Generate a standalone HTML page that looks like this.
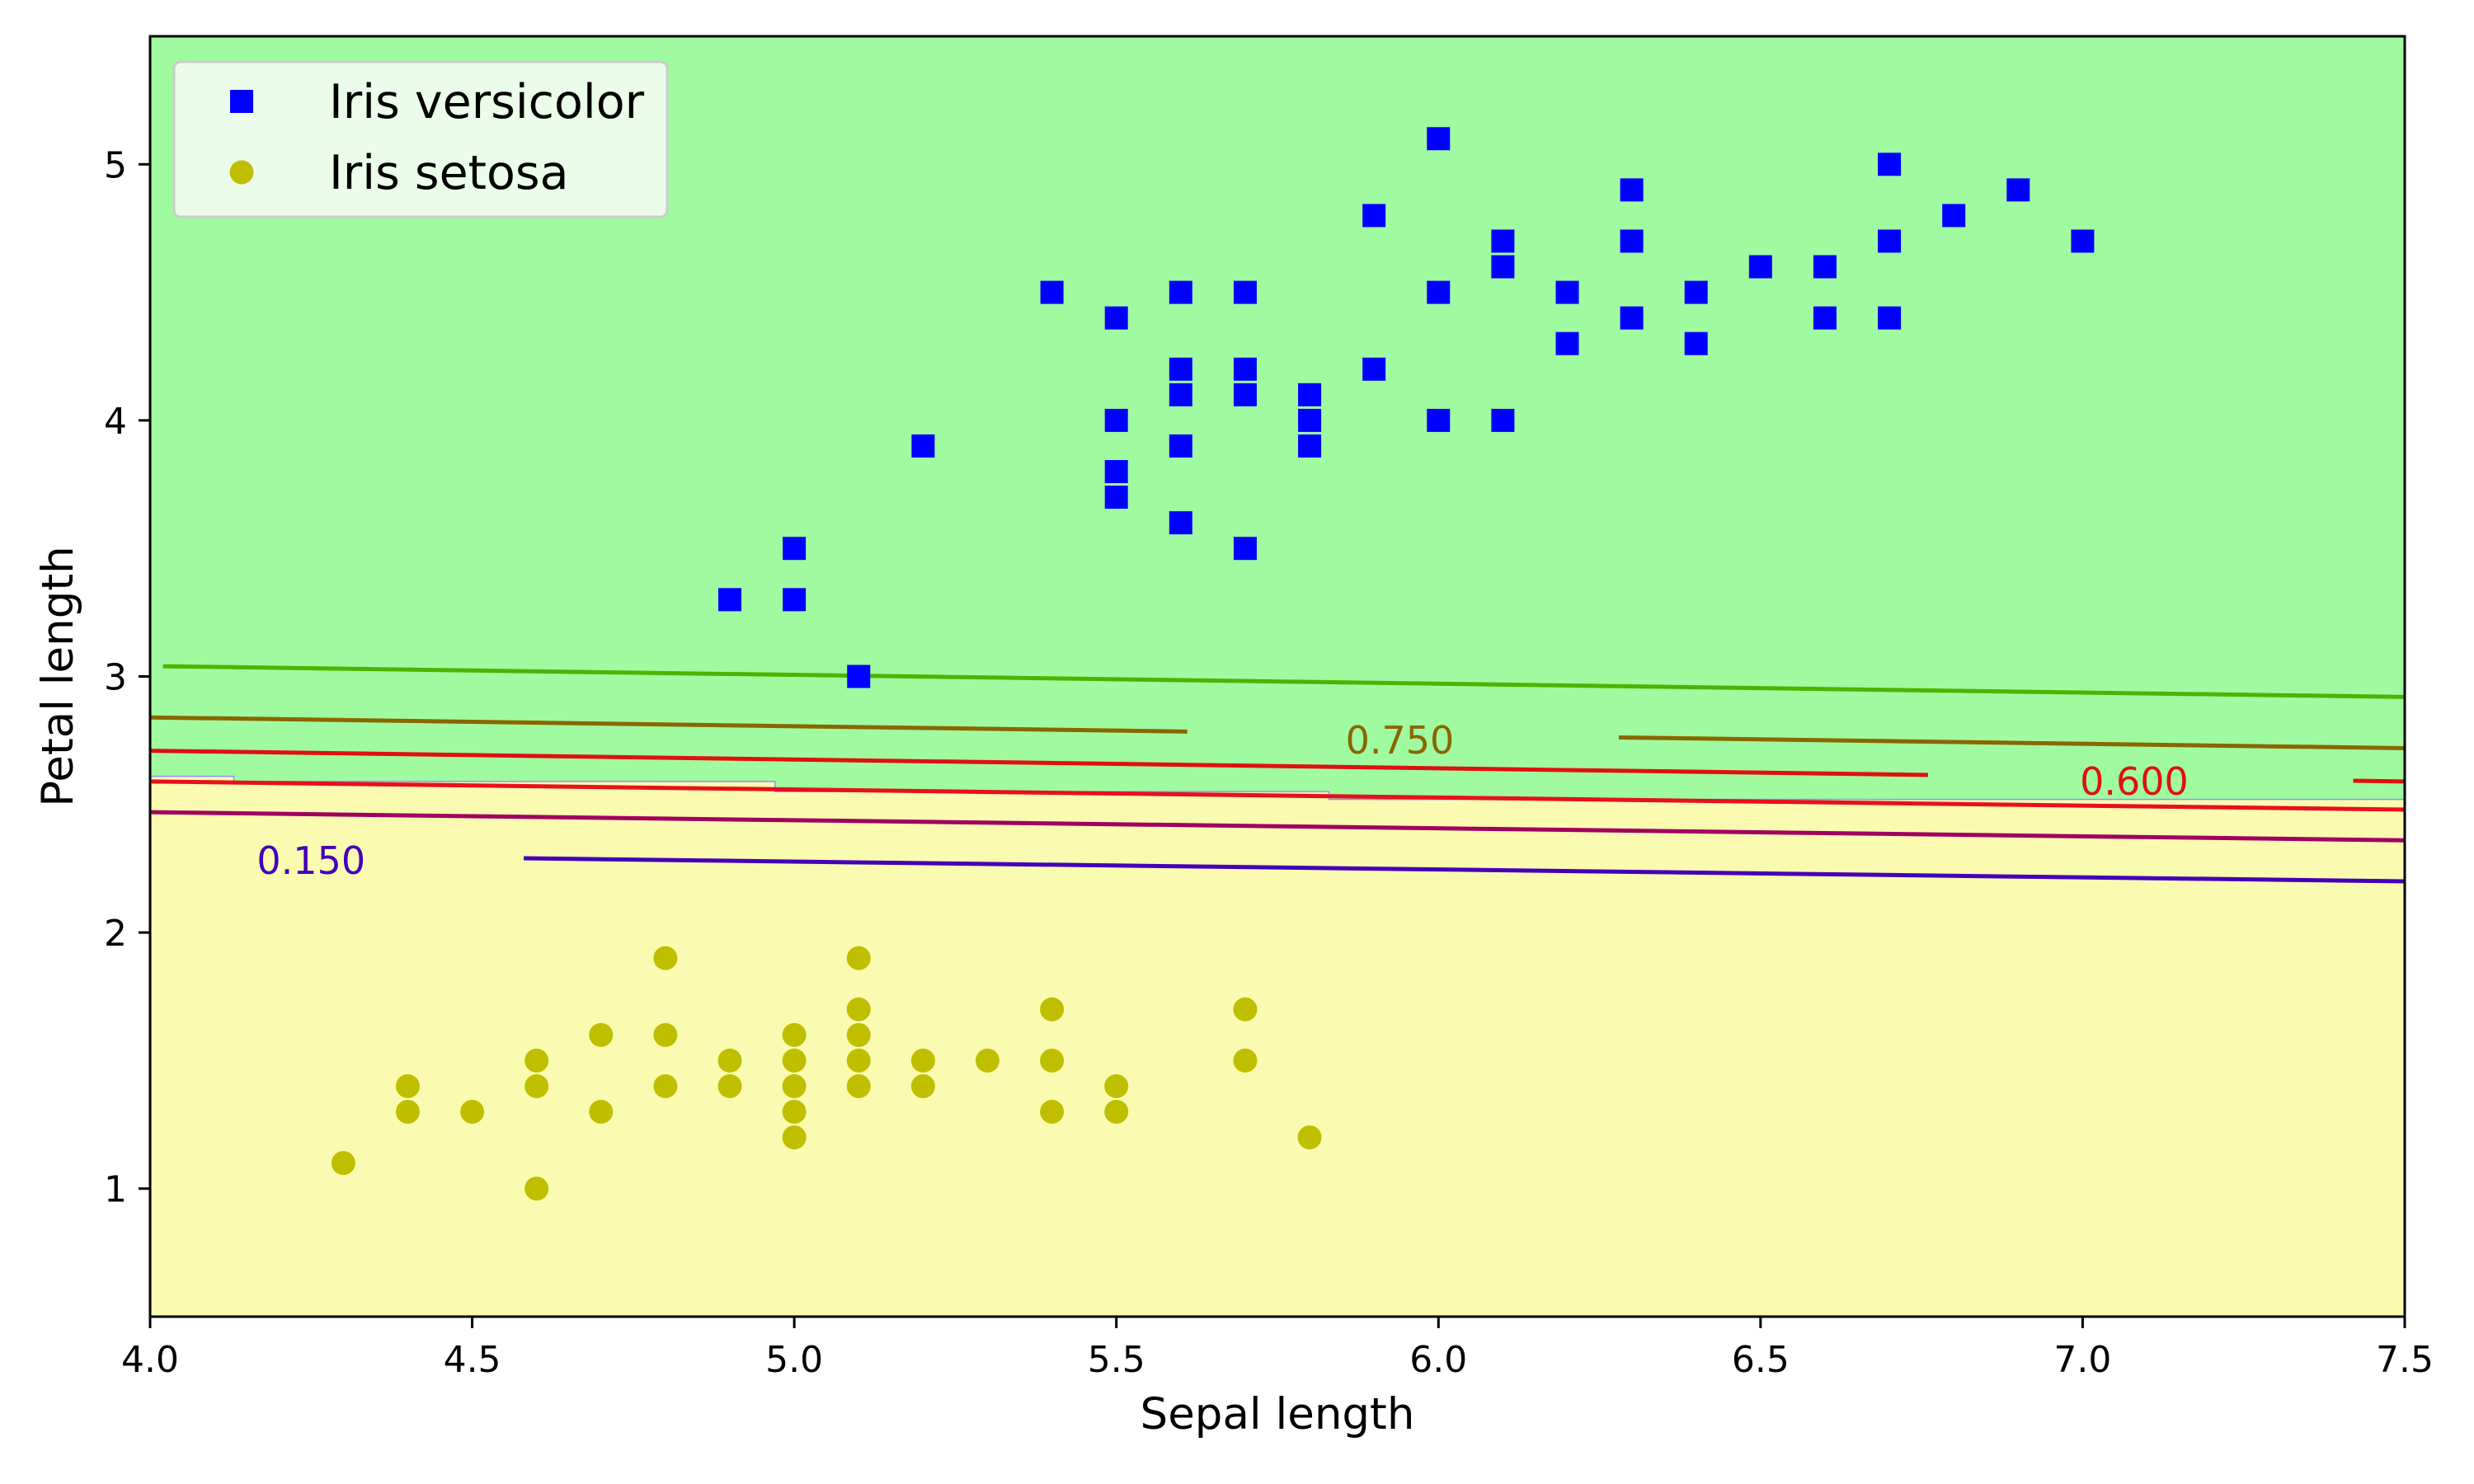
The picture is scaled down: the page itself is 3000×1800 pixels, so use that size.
<!DOCTYPE html>
<html><head><meta charset="utf-8"><style>
html,body{margin:0;padding:0;background:#fff}
svg{display:block;font-family:"DejaVu Sans","Liberation Sans",sans-serif}
</style></head><body>
<svg id="chart" width="3000" height="1800" viewBox="0 0 3000 1800" xmlns="http://www.w3.org/2000/svg">
<g id="plot"></g>
</svg>
<script>
const versicolorX=[4.9,5.0,5.0,5.1,5.2,5.4,5.5,5.5,5.5,5.5,5.6,5.6,5.6,5.6,5.6,5.7,5.7,5.7,5.7,5.8,5.8,5.8,5.9,5.9,6.0,6.0,6.0,6.1,6.1,6.1,6.2,6.2,6.3,6.3,6.3,6.4,6.4,6.5,6.6,6.6,6.7,6.7,6.7,6.8,6.9,7.0];
const versicolorY=[3.3,3.5,3.3,3.0,3.9,4.5,4.4,4.0,3.8,3.7,4.5,4.2,4.1,3.9,3.6,4.5,4.2,4.1,3.5,4.1,4.0,3.9,4.8,4.2,5.1,4.5,4.0,4.7,4.6,4.0,4.5,4.3,4.9,4.7,4.4,4.5,4.3,4.6,4.6,4.4,5.0,4.7,4.4,4.8,4.9,4.7];
const setosaX=[4.3,4.4,4.4,4.5,4.6,4.6,4.6,4.7,4.7,4.8,4.8,4.8,4.9,4.9,5.0,5.0,5.0,5.0,5.0,5.1,5.1,5.1,5.1,5.1,5.2,5.2,5.3,5.4,5.4,5.4,5.5,5.5,5.7,5.7,5.8];
const setosaY=[1.1,1.4,1.3,1.3,1.5,1.4,1.0,1.6,1.3,1.9,1.6,1.4,1.5,1.4,1.6,1.5,1.4,1.3,1.2,1.9,1.7,1.6,1.5,1.4,1.5,1.4,1.5,1.7,1.5,1.3,1.4,1.3,1.7,1.5,1.2];
const xTicks=[4.0,4.5,5.0,5.5,6.0,6.5,7.0,7.5];
const xTickLabels=["4.0","4.5","5.0","5.5","6.0","6.5","7.0","7.5"];
const yTicks=[1,2,3,4,5];
const yTickLabels=["1","2","3","4","5"];
const contourLevels=["0.900","0.750","0.600","0.450","0.300","0.150"];
const contourX0=[4.02,4.0,4.0,4.0,4.0,4.58];
const contourY0=[3.04,2.84,2.71,2.59,2.47,2.29];
const contourY1=[2.92,2.72,2.59,2.48,2.36,2.20];
const contourGapStart=[null,5.61,6.76,null,null,null];
const contourGapEnd=[null,6.28,7.42,null,null,null];
const contourLabelX=[null,5.94,7.08,null,null,4.25];
const contourLabelY=[null,2.75,2.59,null,null,2.28];
const boundaryX=[4.0,4.13,4.97,5.83,6.66,7.5];
const boundaryY=[2.64,2.61,2.59,2.55,2.52,2.52];

const L=182,R=2916,T=44,B=1597,X0=4,X1=7.5,Y0=0.5,Y1=5.5;
const sx=v=>L+(v-X0)/(X1-X0)*(R-L);
const sy=v=>B-(v-Y0)/(Y1-Y0)*(B-T);
const NS="http://www.w3.org/2000/svg";
const g=document.getElementById('plot');
function mk(tag,attrs,parent){const e=document.createElementNS(NS,tag);for(const k in attrs)e.setAttribute(k,attrs[k]);(parent||g).appendChild(e);return e;}

let bg=mk('rect',{x:L,y:T,width:R-L,height:B-T,fill:'#fafab0'});


let pts=`${L},${T} ${R},${T} `;
for(let i=boundaryX.length-1;i>=0;i--){pts+=`${sx(boundaryX[i])},${sy(boundaryY[i])} `;if(i>0)pts+=`${sx(boundaryX[i-1])},${sy(boundaryY[i])} `;}
let green=mk('polygon',{points:pts,fill:'#a0faa0',stroke:'#9090ff','stroke-width':1.5});



const colors=['#4cb400','#8a6600','#e01010','#e8101a','#a00060','#4400b8'];
for(let i=0;i<contourLevels.length;i++){
  const yAt=x=>contourY0[i]+(contourY1[i]-contourY0[i])*(x-contourX0[i])/(7.5-contourX0[i]);
  const segs=contourGapStart[i]==null?[[contourX0[i],7.5]]:[[contourX0[i],contourGapStart[i]],[contourGapEnd[i],7.5]];
  segs.forEach(s=>{
    let ln=mk('line',{x1:sx(s[0]),y1:sy(yAt(s[0])),x2:sx(s[1]),y2:sy(yAt(s[1])),stroke:colors[i],'stroke-width':5});
    
    
  });
  if(contourLabelX[i]!=null){
    let t=mk('text',{x:sx(contourLabelX[i]),y:sy(contourLabelY[i])+16,'font-size':46,fill:colors[i],'text-anchor':'middle'});
    t.textContent=contourLevels[i];
    
    
  }
}

for(let i=0;i<versicolorX.length;i++){
  let r=mk('rect',{x:sx(versicolorX[i])-14,y:sy(versicolorY[i])-14,width:28,height:28,fill:'#0000ff'});
  
  
}
for(let i=0;i<setosaX.length;i++){
  let c=mk('circle',{cx:sx(setosaX[i]),cy:sy(setosaY[i]),r:14.5,fill:'#bfbf00'});
  
  
}

let fr=mk('rect',{x:L,y:T,width:R-L,height:B-T,fill:'none',stroke:'#000','stroke-width':3});



xTicks.forEach((v,i)=>{
  let tk=mk('line',{x1:sx(v),y1:B,x2:sx(v),y2:B+14,stroke:'#000','stroke-width':3});
  
  
  let t=mk('text',{x:sx(v),y:B+67,'font-size':44,'text-anchor':'middle',fill:'#000'});
  t.textContent=xTickLabels[i];
  
  
});
yTicks.forEach((v,i)=>{
  let tk=mk('line',{x1:L-14,y1:sy(v),x2:L,y2:sy(v),stroke:'#000','stroke-width':3});
  
  
  let t=mk('text',{x:L-28,y:sy(v)+16,'font-size':44,'text-anchor':'end',fill:'#000'});
  t.textContent=yTickLabels[i];
  
  
});
let xl=mk('text',{x:(L+R)/2,y:1733,'font-size':53,'text-anchor':'middle',fill:'#000'});
xl.textContent='Sepal length';


let yl=mk('text',{x:0,y:0,'font-size':53,'text-anchor':'middle',fill:'#000',transform:`translate(88,${(T+B)/2}) rotate(-90)`});
yl.textContent='Petal length';



let lg=mk('g',{});


let lb=mk('rect',{x:211,y:75,width:598,height:188,rx:8,fill:'#ebfceb',stroke:'#cccccc','stroke-width':3},lg);


let ls=mk('rect',{x:279,y:109,width:28,height:28,fill:'#0000ff'},lg);


let lt1=mk('text',{x:399,y:143,'font-size':57,fill:'#000'},lg);
lt1.textContent='Iris versicolor';


let lc=mk('circle',{cx:293,cy:209,r:14.5,fill:'#bfbf00'},lg);


let lt2=mk('text',{x:399,y:229,'font-size':57,fill:'#000'},lg);
lt2.textContent='Iris setosa';


</script>
</body></html>
